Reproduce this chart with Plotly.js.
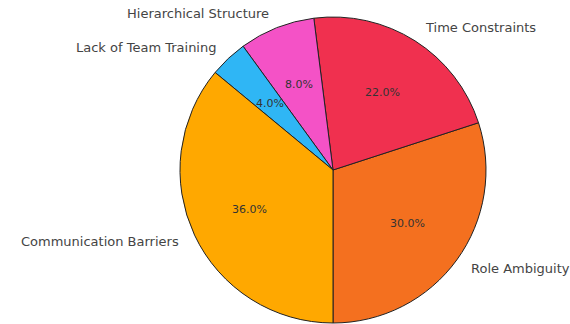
<!DOCTYPE html>
<html><head><meta charset="utf-8">
<script src="https://cdn.plot.ly/plotly-3.0.1.min.js"></script>
<style>html,body{margin:0;padding:0;background:#fff}#chart{width:570px;height:324px}</style>
</head><body><div id="chart"></div>
<script>
const categories = ["Role Ambiguity", "Time Constraints", "Hierarchical Structure", "Lack of Team Training", "Communication Barriers"];
const values = [30, 22, 8, 4, 36];
const colors = ["#F4701F", "#F0304F", "#F452C6", "#2FB6F5", "#FFA800"];

const W = 570, H = 324;
const cxPx = 333, cyPx = 170, rPx = 153;
const dom = {x: [(cxPx - rPx) / W, (cxPx + rPx) / W], y: [(H - cyPx - rPx) / H, (H - cyPx + rPx) / H]};

const total = values.reduce((a, b) => a + b, 0);
const annotations = [];
let cum = 0;
values.forEach((v, i) => {
  const th = (-90 + 360 * (cum + v / 2) / total) * Math.PI / 180;
  cum += v;
  const c = Math.cos(th), s = Math.sin(th);
  annotations.push({
    xref: 'paper', yref: 'paper', showarrow: false,
    x: (cxPx + 1.1 * rPx * c) / W, y: (H - cyPx + 1.1 * rPx * s) / H,
    xanchor: c < 0 ? 'right' : 'left', yanchor: 'middle',
    text: categories[i], font: {family: 'DejaVu Sans', size: 13, color: '#444'}
  });
  annotations.push({
    xref: 'paper', yref: 'paper', showarrow: false,
    x: (cxPx + 0.6 * rPx * c) / W, y: (H - cyPx + 0.6 * rPx * s) / H,
    xanchor: 'center', yanchor: 'middle',
    text: (100 * v / total).toFixed(1) + '%', font: {family: 'DejaVu Sans', size: 11, color: '#333'}
  });
});

// Plotly counterclockwise: first slice sits clockwise of the rotation point.
// Put its far edge at 6 o'clock so it runs counterclockwise from the bottom.
const rotation = 180 - 360 * values[0] / total;

const trace = {
  type: 'pie', labels: categories, values: values, sort: false,
  direction: 'counterclockwise', rotation: rotation,
  marker: {colors: colors, line: {color: '#222', width: 1}},
  textinfo: 'none', hoverinfo: 'label+percent', domain: dom, showlegend: false
};

Plotly.newPlot('chart', [trace], {
  width: W, height: H, margin: {l: 0, r: 0, t: 0, b: 0},
  paper_bgcolor: '#fff', plot_bgcolor: '#fff', showlegend: false,
  annotations: annotations
}, {displayModeBar: false, staticPlot: true});
</script></body></html>
